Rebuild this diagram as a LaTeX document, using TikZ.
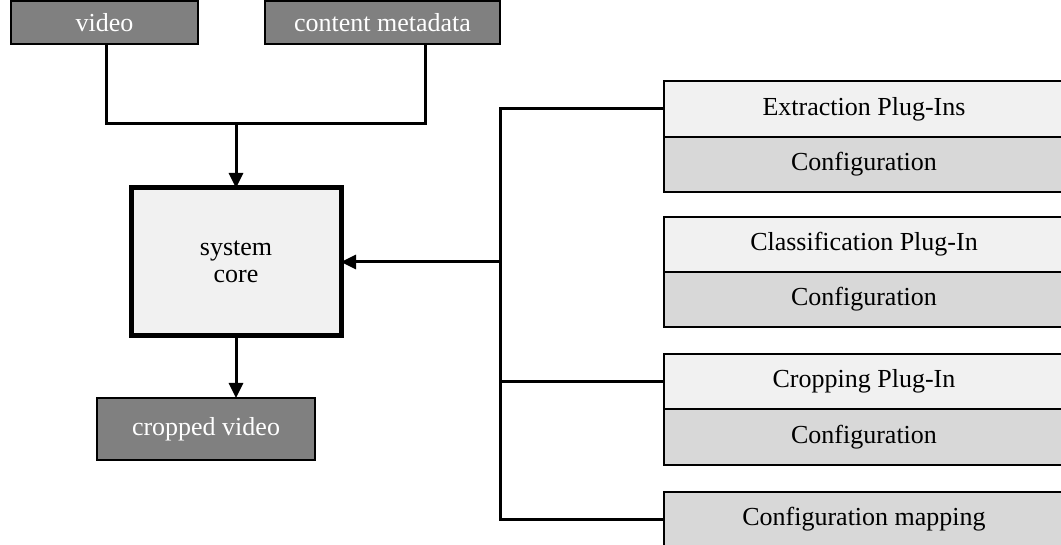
\documentclass[tikz,border=0pt]{standalone}
\usepackage{fontspec}
\setmainfont{Liberation Serif}
\usetikzlibrary{arrows.meta}
\definecolor{iogray}{HTML}{808080}
\definecolor{coregray}{HTML}{F1F1F1}
\definecolor{plugray}{HTML}{F1F1F1}
\definecolor{cfggray}{HTML}{D8D8D8}
\begin{document}
\begin{tikzpicture}[x=1pt,y=-1pt,
  txt/.style={font=\fontsize{26}{27}\selectfont},
  box/.style={txt, inner sep=0pt, outer sep=0pt, anchor=north west},
  io/.style={box, draw=black, line width=2pt, fill=iogray, text=white},
  corebox/.style={box, draw=black, line width=5pt, fill=coregray, align=center},
  plug/.style={box, draw=black, line width=2.5pt, fill=plugray},
  cfg/.style={plug, fill=cfggray},
  wire/.style={line width=3pt},
  arrow/.style={wire, -{Triangle[length=15pt,width=14pt]}}]
\useasboundingbox (0,0) rectangle (1061,545);

% inputs and output
\node[io, minimum width=187pt, minimum height=43pt] (video) at (11,1) {video};
\node[io, minimum width=235pt, minimum height=43pt] (meta) at (265,1) {content metadata};
\node[corebox, minimum width=210pt, minimum height=148pt] (core) at (131,188) {system\\core};
\node[io, minimum width=218pt, minimum height=62pt] (out) at (97,398) {cropped video};

% plug-in stack
\node[plug, minimum width=400pt, minimum height=56pt] (ext) at (664,81) {Extraction Plug-Ins};
\node[cfg, minimum width=400pt, minimum height=55pt] (extcfg) at (664,137) {Configuration};
\node[plug, minimum width=400pt, minimum height=55pt] (cls) at (664,217) {Classification Plug-In};
\node[cfg, minimum width=400pt, minimum height=55pt] (clscfg) at (664,272) {Configuration};
\node[plug, minimum width=400pt, minimum height=55pt] (crop) at (664,354) {Cropping Plug-In};
\node[cfg, minimum width=400pt, minimum height=56pt] (cropcfg) at (664,409) {Configuration};
\node[cfg, minimum width=400pt, minimum height=54pt] (map) at (664,492) {Configuration mapping};

% joints
\coordinate (join) at (236,124);
\coordinate (vdrop) at (106,0);
\coordinate (mdrop) at (425,0);
\coordinate (busx) at (500,0);

% inputs into the core
\draw[wire] (video.south -| vdrop) |- (join) -| (meta.south -| mdrop);
\draw[arrow] (join) -- (core.north);
\draw[arrow] (core.south) -- (core.south |- out.north);

% plug-in bus
\draw[wire] (ext.west) -- (ext.west -| busx) -- (map.west -| busx) -- (map.west);
\draw[wire] (crop.west) -- (crop.west -| busx);
\draw[arrow] (core.east -| busx) -- (core.east);
\end{tikzpicture}
\end{document}
